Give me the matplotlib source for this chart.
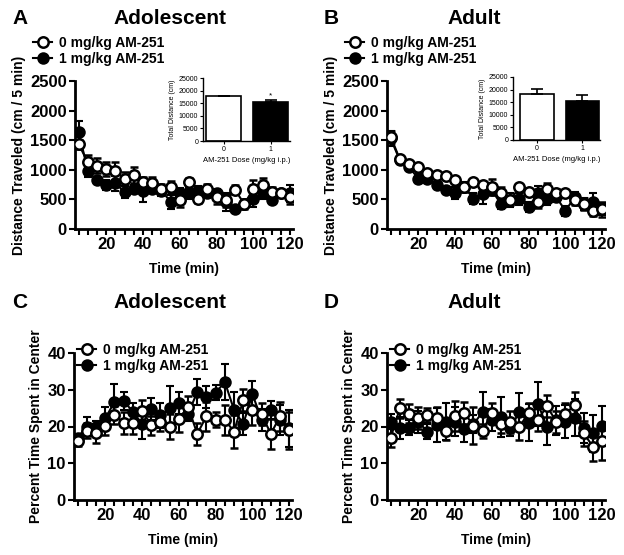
import matplotlib
matplotlib.use("Agg")
import matplotlib.pyplot as plt
from matplotlib.lines import Line2D

plt.rcParams['font.family'] = ['Liberation Sans', 'DejaVu Sans']
plt.rcParams['font.weight'] = 'bold'
plt.rcParams['axes.labelweight'] = 'bold'

# time bins (min)
time = list(range(5, 121, 5))

# panel A - adolescent distance (cm / 5 min)
a_veh = [1430, 1130, 1070, 1020, 980, 850, 910, 800, 770, 680, 710, 490,
         800, 515, 680, 540, 485, 665, 420, 680, 740, 625, 600, 540]
a_veh_err = [80, 120, 130, 120, 150, 110, 130, 80, 100, 80, 100, 120,
             60, 80, 80, 120, 110, 80, 80, 150, 120, 80, 60, 120]
a_drug = [1640, 980, 820, 740, 770, 625, 680, 650, 680, 650, 460, 600,
          600, 650, 600, 600, 460, 333, 420, 515, 600, 485, 600, 600]
a_drug_err = [180, 100, 60, 80, 120, 100, 70, 200, 80, 90, 120, 100,
              100, 80, 80, 70, 150, 30, 50, 150, 100, 60, 60, 140]

# panel B - adult distance
b_veh = [1560, 1175, 1095, 1050, 950, 910, 890, 835, 710, 795, 740, 710,
         610, 485, 710, 620, 455, 680, 610, 610, 485, 420, 305, 330]
b_veh_err = [100, 60, 50, 50, 40, 40, 40, 50, 80, 40, 50, 130,
             100, 80, 50, 50, 100, 100, 60, 50, 80, 100, 80, 120]
b_drug = [1530, 1160, 1050, 850, 850, 740, 655, 610, 710, 515, 590, 655,
          420, 485, 500, 370, 600, 500, 540, 305, 540, 420, 455, 330]
b_drug_err = [130, 60, 60, 80, 60, 60, 60, 100, 80, 90, 160, 80,
              80, 120, 100, 80, 120, 100, 80, 80, 80, 100, 150, 100]

# panel C - adolescent % time in center
c_veh = [16.1, 18.9, 18.1, 20.2, 23.2, 21.0, 21.0, 24.3, 20.3, 21.3, 20.0, 22.0,
         25.4, 18.0, 22.8, 21.9, 21.8, 18.6, 27.2, 24.5, 23.3, 18.0, 22.8, 19.0]
c_veh_err = [1.5, 2, 2.5, 2.5, 2.5, 3, 3, 3, 2.5, 2.5, 3.5, 3.5,
             3, 3, 4, 2, 4, 4.5, 3, 4, 3, 4, 4, 5]
c_drug = [17.0, 20.0, 20.0, 22.2, 26.7, 27.0, 24.0, 20.7, 24.7, 23.0, 25.0, 26.3,
          23.4, 29.4, 28.1, 29.2, 32.1, 24.5, 20.7, 28.8, 21.8, 24.5, 21.8, 19.5]
c_drug_err = [1, 2.5, 1.5, 3, 5, 2.5, 2.5, 4, 3, 3.5, 6, 3,
              2, 3.5, 3, 2, 5, 5, 3, 3.5, 3, 2.5, 4, 5]

# panel D - adult % time in center
d_veh = [17.0, 24.9, 23.5, 22.4, 23.1, 22.4, 18.8, 22.9, 23.8, 20.2, 18.8, 23.8,
         20.6, 21.3, 19.9, 23.8, 21.9, 25.5, 21.3, 23.5, 25.8, 18.1, 14.5, 16.0]
d_veh_err = [2.5, 2.5, 2.5, 3, 2, 3, 2.5, 4, 3, 5, 2, 2.5,
             2.5, 3, 3.5, 2.5, 3, 3, 3, 3, 3.5, 3.5, 4, 5]
d_drug = [21.3, 19.7, 19.7, 21.3, 18.6, 20.4, 21.3, 21.3, 19.3, 20.6, 24.0, 21.7,
          22.6, 19.5, 24.0, 21.0, 26.2, 19.9, 21.7, 21.3, 22.4, 19.6, 18.1, 20.1]
d_drug_err = [2, 3, 2, 3, 2, 4.5, 5, 4, 3.5, 2.5, 5.5, 3,
              5.5, 2, 5, 5, 6, 5, 4, 4.5, 5, 4, 5, 5.5]

# insets - total distance (cm)
doses = ['0', '1']
a_total = [17700, 15300]
a_total_err = [300, 1000]
b_total = [18100, 15600]
b_total_err = [2100, 2200]

labels = ['0 mg/kg AM-251', '1 mg/kg AM-251']

W, H = 624, 555
fig = plt.figure(figsize=(W / 100, H / 100), dpi=100)


def px_axes(l, t, r, b):
    return fig.add_axes([l / W, 1 - b / H, (r - l) / W, (b - t) / H])


def style(ax, lw=2):
    for s in ['top', 'right']:
        ax.spines[s].set_visible(False)
    for s in ['left', 'bottom']:
        ax.spines[s].set_linewidth(lw)


def timecourse(ax, veh, veh_err, drug, drug_err, ylim, yticks, ylabel):
    ax.errorbar(time, drug, yerr=drug_err, color='k', marker='o', ms=7.5,
                mfc='k', mec='k', mew=1.5, lw=1.5, elinewidth=1.5,
                capsize=3, capthick=1.5, zorder=3)
    ax.errorbar(time, veh, yerr=veh_err, color='k', marker='o', ms=7.5,
                mfc='white', mec='k', mew=1.8, lw=1.5, elinewidth=1.5,
                capsize=3, capthick=1.5, zorder=4)
    ax.set_xlim(3, 121.5)
    ax.set_ylim(*ylim)
    ax.set_xticks(time)
    ax.set_xticklabels([str(t) if t % 20 == 0 else '' for t in time])
    ax.set_yticks(yticks)
    ax.tick_params(axis='both', labelsize=12, width=1.5, length=4, pad=2)
    ax.set_xlabel('Time (min)', fontsize=10, labelpad=7)
    ax.set_ylabel(ylabel, fontsize=10, labelpad=3)
    style(ax)


def inset(ax, vals, errs, xl, star=False):
    ax.bar([0, 1], vals, width=0.74, color=['white', 'black'],
           edgecolor='k', linewidth=1.2)
    ax.errorbar([0, 1], vals, yerr=[[0, 0], errs], fmt='none', ecolor='k',
                elinewidth=1.2, capsize=4, capthick=1.2)
    if star:
        ax.text(1, vals[1] + errs[1] + 200, '*', ha='center', va='bottom',
                fontsize=6, fontweight='normal')
    ax.set_xlim(*xl)
    ax.set_ylim(0, 25000)
    ax.set_yticks(range(0, 25001, 5000))
    ax.set_xticks([0, 1])
    ax.set_xticklabels(doses)
    ax.tick_params(axis='both', labelsize=5, width=0.8, length=2, pad=1.5)
    for t in ax.get_xticklabels() + ax.get_yticklabels():
        t.set_fontweight('normal')
    ax.set_ylabel('Total Distance (cm)', fontsize=5, fontweight='normal',
                  labelpad=2)
    ax.set_xlabel('AM-251 Dose (mg/kg i.p.)', fontsize=5.5,
                  fontweight='normal', labelpad=3)
    style(ax, lw=1)


def add_legend(ax, x, y):
    h = [Line2D([], [], color='k', marker='o', ms=7.5, mfc='white', mec='k',
                mew=1.8, lw=1.5),
         Line2D([], [], color='k', marker='o', ms=7.5, mfc='k', mec='k',
                mew=1.5, lw=1.5)]
    ax.legend(h, labels, loc='upper left', bbox_to_anchor=(x / W, 1 - y / H),
              bbox_transform=fig.transFigure, frameon=False, fontsize=10,
              handlelength=1.4, handletextpad=0.5, labelspacing=0.15,
              borderpad=0, borderaxespad=0)


dist_label = 'Distance Traveled (cm / 5 min)'
pct_label = 'Percent Time Spent in Center'

axA = px_axes(75, 81, 293, 229)
timecourse(axA, a_veh, a_veh_err, a_drug, a_drug_err, (0, 2500),
           range(0, 2501, 500), dist_label)
add_legend(axA, 33, 36)

axB = px_axes(387, 81, 605, 229)
timecourse(axB, b_veh, b_veh_err, b_drug, b_drug_err, (0, 2500),
           range(0, 2501, 500), dist_label)
add_legend(axB, 345, 36)

axC = px_axes(74, 353, 292, 500)
timecourse(axC, c_veh, c_veh_err, c_drug, c_drug_err, (0, 40),
           range(0, 41, 10), pct_label)
add_legend(axC, 77, 343)

axD = px_axes(387, 353, 605, 500)
timecourse(axD, d_veh, d_veh_err, d_drug, d_drug_err, (0, 40),
           range(0, 41, 10), pct_label)
add_legend(axD, 390, 343)

insA = px_axes(203, 78, 290, 141)
inset(insA, a_total, a_total_err, (-0.44, 1.41), star=True)
insB = px_axes(513, 77, 600, 140)
inset(insB, b_total, b_total_err, (-0.53, 1.39))

# panel letters and titles
for letter, lx, tx, ty, title in [('A', 12, 170, 18, 'Adolescent'),
                                  ('B', 324, 474, 18, 'Adult'),
                                  ('C', 12, 170, 302, 'Adolescent'),
                                  ('D', 324, 474, 302, 'Adult')]:
    fig.text(lx / W, 1 - ty / H, letter, fontsize=15, fontweight='bold',
             ha='left', va='center')
    fig.text(tx / W, 1 - ty / H, title, fontsize=15, fontweight='bold',
             ha='center', va='center')

fig.savefig('out.png', dpi=100)
